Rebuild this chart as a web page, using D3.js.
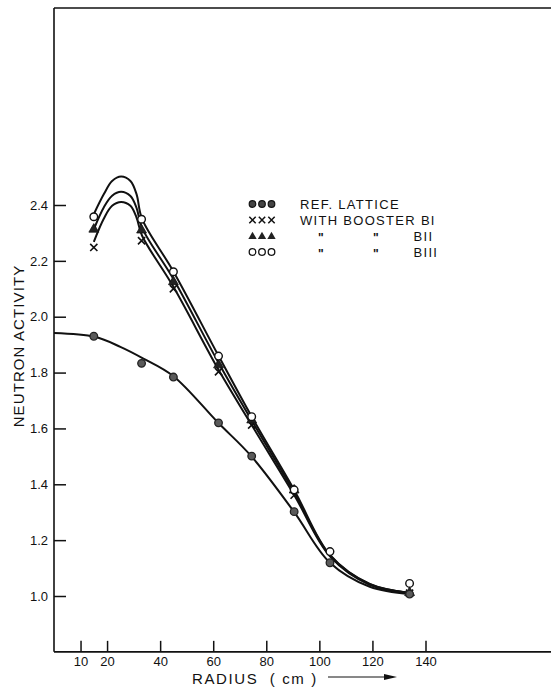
<!DOCTYPE html>
<html>
<head>
<meta charset="utf-8">
<script src="https://cdn.jsdelivr.net/npm/d3@7"></script>
<style>
  html, body { margin: 0; padding: 0; background: #fff; }
  svg { display: block; }
  text { font-family: "Liberation Sans", Arial, sans-serif; fill: #111; }
</style>
</head>
<body>
<svg id="chart" width="551" height="692"></svg>
<script>
// ---------- data ----------
const xTicks = [10, 20, 40, 60, 80, 100, 120, 140];
const yTicks = [1.0, 1.2, 1.4, 1.6, 1.8, 2.0, 2.2, 2.4];

const radius = [15, 33, 45, 62, 74.5, 90.5, 104, 134];
const refLattice = [1.930, 1.833, 1.784, 1.620, 1.501, 1.302, 1.119, 1.007];
const boosterBI   = [2.248, 2.272, 2.100, 1.803, 1.612, 1.361, null, 1.010];
const boosterBII  = [2.313, 2.310, 2.125, 1.827, 1.630, 1.379, null, 1.012];
const boosterBIII = [2.358, 2.349, 2.161, 1.859, 1.642, 1.380, 1.159, 1.045];

// hand-drawn fitted curves (knots)
const refCurveR = [0, 15.4, 25, 33.5, 45, 61.7, 74.4, 90.4, 104, 119, 134.3];
const refCurveV = [1.942, 1.928, 1.892, 1.851, 1.787, 1.622, 1.500, 1.302, 1.119, 1.033, 1.007];

const boostCurveR = [15, 18.8, 21.9, 25.3, 28.8, 31.1, 33.2, 45, 62, 74.5, 90.5, 104, 119, 133.5];
const curveBI   = [2.268, 2.352, 2.397, 2.411, 2.397, 2.355, 2.290, 2.107, 1.810, 1.612, 1.362, 1.142, 1.040, 1.012];
const curveBII  = [2.313, 2.392, 2.433, 2.447, 2.432, 2.390, 2.318, 2.135, 1.835, 1.628, 1.372, 1.145, 1.042, 1.012];
const curveBIII = [2.367, 2.439, 2.486, 2.502, 2.486, 2.439, 2.350, 2.162, 1.860, 1.642, 1.380, 1.147, 1.043, 1.012];

const legendLabels = ["REF. LATTICE", "WITH BOOSTER BI", "BII", "BIII"];

// ---------- scales ----------
const svg = d3.select("#chart");
const x = d3.scaleLinear().domain([0, 140]).range([54, 425.5]);
const y = d3.scaleLinear().domain([1.0, 2.4]).range([596, 205]);
const yBottom = y(0.8), yTop = y(3.1);
const xRight = 551;
const ink = "#111";

// frame
svg.append("line").attr("x1", x(0)).attr("x2", x(0)).attr("y1", yTop - 1.5).attr("y2", yBottom)
  .attr("stroke", ink).attr("stroke-width", 1.6);
svg.append("line").attr("x1", x(0)).attr("x2", xRight).attr("y1", yTop - 1.5).attr("y2", yTop - 1.5)
  .attr("stroke", ink).attr("stroke-width", 1.4);

// x axis
const xAxis = d3.axisBottom(x).tickValues(xTicks).tickSizeInner(-11).tickSizeOuter(0).tickPadding(5)
  .tickFormat(d3.format("d"));
const gx = svg.append("g").attr("transform", `translate(0,${yBottom})`).call(xAxis);
gx.select(".domain").remove();
gx.selectAll(".tick line").attr("stroke", ink).attr("stroke-width", 1.5);
gx.selectAll(".tick text").attr("font-size", 13).attr("font-family", "Liberation Sans, Arial, sans-serif").attr("fill", ink);
svg.append("line").attr("x1", x(0)).attr("x2", xRight).attr("y1", yBottom).attr("y2", yBottom)
  .attr("stroke", ink).attr("stroke-width", 1.6);

// y axis
const yAxis = d3.axisLeft(y).tickValues(yTicks).tickSizeInner(-12).tickSizeOuter(0).tickPadding(6)
  .tickFormat(d3.format(".1f"));
const gy = svg.append("g").attr("transform", `translate(${x(0)},0)`).call(yAxis);
gy.select(".domain").remove();
gy.selectAll(".tick line").attr("stroke", ink).attr("stroke-width", 1.5);
gy.selectAll(".tick text").attr("font-size", 13).attr("font-family", "Liberation Sans, Arial, sans-serif").attr("fill", ink);

// axis titles
svg.append("text").attr("transform", `translate(24,346) rotate(-90)`)
  .attr("text-anchor", "middle").attr("font-size", 15).attr("letter-spacing", 1.1)
  .text("NEUTRON ACTIVITY");
svg.append("text").attr("x", 192).attr("y", 684).attr("font-size", 15).attr("letter-spacing", 1.6)
  .attr("xml:space", "preserve").style("white-space", "pre")
  .text("RADIUS  ( cm )");
// arrow
svg.append("line").attr("x1", 328).attr("x2", 386).attr("y1", 677).attr("y2", 677)
  .attr("stroke", ink).attr("stroke-width", 1);
svg.append("path").attr("d", "M384,674 L397,677 L384,680 Z").attr("fill", ink);

// curves
const line = d3.line().x(d => x(d[0])).y(d => y(d[1])).curve(d3.curveCatmullRom.alpha(0.5));
function drawCurve(rs, vs) {
  svg.append("path").datum(rs.map((r, i) => [r, vs[i]])).attr("d", line)
    .attr("fill", "none").attr("stroke", ink).attr("stroke-width", 2);
}
drawCurve(refCurveR, refCurveV);
drawCurve(boostCurveR, curveBI);
drawCurve(boostCurveR, curveBII);
drawCurve(boostCurveR, curveBIII);

// markers
const pts = (vals) => radius.map((r, i) => [r, vals[i]]).filter(d => d[1] != null);
function crossPath(cx, cy, s) {
  return `M${cx - s},${cy - s}L${cx + s},${cy + s}M${cx - s},${cy + s}L${cx + s},${cy - s}`;
}
function drawCross(cx, cy) {
  svg.append("path").attr("d", crossPath(cx, cy, 3.6)).attr("stroke", ink).attr("stroke-width", 1.6).attr("fill", "none");
}
function drawTri(cx, cy) {
  svg.append("path").attr("d", d3.symbol(d3.symbolTriangle, 42)()).attr("transform", `translate(${cx},${cy})`)
    .attr("fill", "#222").attr("stroke", ink).attr("stroke-width", 0.8);
}
function drawFilled(cx, cy) {
  svg.append("circle").attr("cx", cx).attr("cy", cy).attr("r", 3.8)
    .attr("fill", "#5a5a5a").attr("stroke", "#222").attr("stroke-width", 1.3);
}
function drawOpen(cx, cy) {
  svg.append("circle").attr("cx", cx).attr("cy", cy).attr("r", 3.8)
    .attr("fill", "#fff").attr("stroke", ink).attr("stroke-width", 1.4);
}
pts(boosterBI).forEach(d => drawCross(x(d[0]), y(d[1])));
pts(boosterBII).forEach(d => drawTri(x(d[0]), y(d[1])));
pts(refLattice).forEach(d => drawFilled(x(d[0]), y(d[1])));
pts(boosterBIII).forEach(d => drawOpen(x(d[0]), y(d[1])));

// legend
const legX = [252.5, 262, 271.5];
const legRows = [204, 220, 236, 252];
legRows.forEach((ry, i) => {
  legX.forEach(lx => {
    if (i === 0) {
      svg.append("circle").attr("cx", lx).attr("cy", ry).attr("r", 3.3).attr("fill", "#444").attr("stroke", "#111").attr("stroke-width", 1.2);
    } else if (i === 1) {
      svg.append("path").attr("d", crossPath(lx, ry, 3.2)).attr("stroke", ink).attr("stroke-width", 1.5);
    } else if (i === 2) {
      svg.append("path").attr("d", d3.symbol(d3.symbolTriangle, 30)()).attr("transform", `translate(${lx},${ry + 0.5})`).attr("fill", "#222");
    } else {
      svg.append("circle").attr("cx", lx).attr("cy", ry).attr("r", 3.3).attr("fill", "#fff").attr("stroke", ink).attr("stroke-width", 1.3);
    }
  });
});
const legText = (tx, ty, s) => svg.append("text").attr("x", tx).attr("y", ty).attr("font-size", 13)
  .attr("letter-spacing", 1.3).text(s);
legText(300, 208.5, legendLabels[0]);
legText(300, 224.5, legendLabels[1]);
[240.5, 256.5].forEach((ty, k) => {
  legText(318, ty + 1, "\"").attr("font-size", 12).attr("letter-spacing", 0).style("font-weight", "bold");
  legText(373, ty + 1, "\"").attr("font-size", 12).attr("letter-spacing", 0).style("font-weight", "bold");
  legText(413.5, ty, legendLabels[2 + k]);
});
</script>
</body>
</html>
